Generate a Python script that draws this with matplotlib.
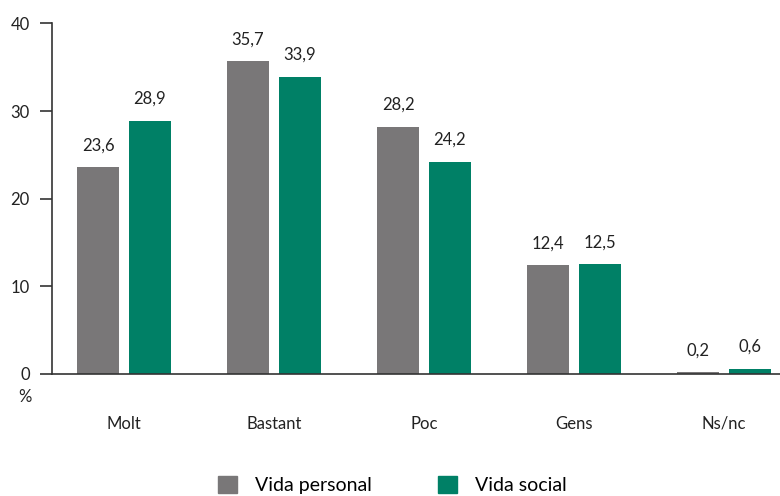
import numpy as np
import matplotlib.pyplot as plt
from matplotlib.patches import Patch

plt.rcParams['font.family'] = ['Lato', 'DejaVu Sans']

# Datos
categorias = ['Molt', 'Bastant', 'Poc', 'Gens', 'Ns/nc']
vida_personal = [23.6, 35.7, 28.2, 12.4, 0.2]
vida_social = [28.9, 33.9, 24.2, 12.5, 0.6]
series = ['Vida personal', 'Vida social']

gris = '#797778'
verde = '#008066'
eje = '#333333'

fig = plt.figure(figsize=(7.8, 4.96), dpi=100)
ax = fig.add_axes([52 / 780, 1 - 374 / 496, 1 - 52 / 780, (374 - 23.5) / 496])

x = np.arange(len(categorias))
ancho = 0.28
desp = 0.173
b1 = ax.bar(x - desp, vida_personal, ancho, color=gris)
b2 = ax.bar(x + desp, vida_social, ancho, color=verde)

def etiquetas(barras, valores):
    for b, v in zip(barras, valores):
        ax.annotate(f'{v:.1f}'.replace('.', ','),
                    (b.get_x() + b.get_width() / 2, b.get_height()),
                    xytext=(0, 10), textcoords='offset points',
                    ha='center', va='bottom', fontsize=12, color='#222222')

etiquetas(b1, vida_personal)
etiquetas(b2, vida_social)

ax.set_xlim(-0.48, 4.373)
ax.set_ylim(0, 40)
ax.set_yticks([0, 10, 20, 30, 40])
ax.tick_params(axis='y', length=9, width=1.2, color=eje, pad=7, labelsize=12, labelcolor='#222222')
ax.set_xticks(x)
ax.set_xticklabels(categorias)
ax.tick_params(axis='x', length=0, pad=30, labelsize=12, labelcolor='#222222')

for s in ['top', 'right']:
    ax.spines[s].set_visible(False)
ax.spines['left'].set_color(eje)
ax.spines['left'].set_linewidth(1.2)
ax.spines['bottom'].set_color(eje)
ax.spines['bottom'].set_linewidth(1.2)

fig.text(25 / 780, 1 - 397 / 496, '%', ha='center', va='center', fontsize=12, color='#222222')

handles = [Patch(color=gris), Patch(color=verde)]
fig.legend(handles, series, loc='center', bbox_to_anchor=(392 / 780, 1 - 485 / 496),
           ncol=2, frameon=False, fontsize=14, handlelength=1.0, handleheight=1.0,
           columnspacing=3.4, handletextpad=0.9)

plt.savefig('out.png', dpi=100)
